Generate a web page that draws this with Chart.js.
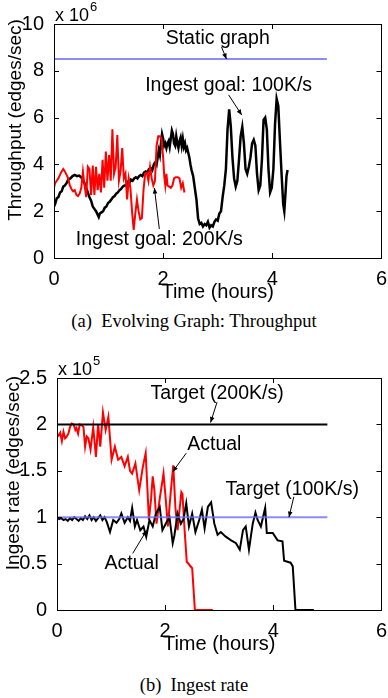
<!DOCTYPE html>
<html><head><meta charset="utf-8">
<script src="https://cdn.jsdelivr.net/npm/chart.js@4"></script>
<style>
html,body{margin:0;padding:0;background:#fff;width:388px;height:698px;overflow:hidden;}
.wrap{position:absolute;left:0;width:388px;}
canvas{display:block;}
.cap{position:absolute;left:0;width:388px;text-align:center;font-family:'Liberation Serif','Times New Roman',serif;font-size:18.5px;line-height:22px;color:#000;white-space:pre;}
</style></head>
<body>
<div class="wrap" style="top:0;height:304px"><canvas id="c1" width="388" height="304"></canvas></div>
<div class="cap" style="top:310px">(a)  Evolving Graph: Throughput</div>
<div class="wrap" style="top:350px;height:306px"><canvas id="c2" width="388" height="306"></canvas></div>
<div class="cap" style="top:674px">(b)  Ingest rate</div>
<script>
// ---------- DATA (a) Throughput, x in hours, y in 1e6 edges/sec ----------
const tpXTicks = [0, 2, 4, 6];
const tpYTicks = [0, 2, 4, 6, 8, 10];
const staticGraphT = [0, 5];
const staticGraphV = [8.5, 8.5];
const goal100T = [0.00,0.02,0.05,0.08,0.11,0.14,0.17,0.20,0.23,0.26,0.30,0.34,0.38,0.42,0.46,0.50,0.53,0.56,0.59,0.62,0.65,0.68,0.71,0.74,0.77,0.80,0.82,0.84,0.87,0.90,0.93,0.96,0.99,1.02,1.05,1.08,1.11,1.14,1.17,1.20,1.23,1.26,1.29,1.32,1.35,1.38,1.41,1.44,1.47,1.50,1.53,1.56,1.59,1.62,1.65,1.68,1.71,1.74,1.77,1.80,1.83,1.86,1.88,1.90,1.92,1.94,1.96,1.98,2.00,2.02,2.04,2.06,2.08,2.10,2.12,2.14,2.16,2.18,2.20,2.22,2.24,2.26,2.28,2.30,2.32,2.34,2.36,2.38,2.40,2.42,2.44,2.46,2.48,2.50,2.52,2.55,2.58,2.61,2.64,2.67,2.70,2.73,2.76,2.79,2.82,2.85,2.88,2.91,2.94,2.97,3.00,3.03,3.06,3.09,3.12,3.15,3.18,3.21,3.24,3.27,3.30,3.33,3.36,3.39,3.42,3.45,3.48,3.51,3.54,3.57,3.60,3.63,3.66,3.69,3.72,3.75,3.78,3.81,3.84,3.87,3.90,3.93,3.96,3.99,4.02,4.05,4.08,4.11,4.14,4.17,4.20,4.22,4.24,4.26,4.28];
const goal100V = [2.2,2.3,2.55,2.6,2.8,2.85,3.05,3.1,3.2,3.35,3.4,3.5,3.55,3.5,3.52,3.45,3.3,3.2,3.0,2.8,2.6,2.45,2.2,2.1,2.0,1.85,1.75,1.9,1.95,2.0,2.15,2.2,2.35,2.4,2.5,2.6,2.65,2.75,2.8,2.9,2.95,3.05,3.1,3.1,3.25,3.2,3.35,3.3,3.4,3.45,3.4,3.5,3.55,3.5,3.65,3.7,3.65,3.8,3.85,3.75,4.0,4.1,4.0,4.3,4.6,4.4,4.9,5.3,5.1,4.8,4.9,4.7,4.9,5.0,4.75,5.1,5.45,5.3,4.9,4.8,5.2,4.9,4.7,5.0,5.15,4.8,5.1,4.75,4.9,4.6,4.7,4.5,4.3,4.0,3.76,3.5,3.0,2.5,1.7,1.45,1.5,1.35,1.45,1.4,1.55,1.3,1.4,1.35,1.55,1.65,1.6,1.9,2.0,2.6,3.1,3.8,5.5,6.35,5.6,4.3,3.4,3.05,3.3,4.2,5.2,5.6,4.9,3.8,3.6,3.9,4.3,4.9,5.05,4.8,3.6,2.9,3.1,4.2,5.9,6.0,5.5,3.8,2.8,3.0,3.8,5.7,6.8,6.5,5.0,3.6,2.3,2.0,2.7,3.5,3.76];
const goal200T = [0.00,0.02,0.05,0.08,0.11,0.14,0.17,0.20,0.23,0.26,0.29,0.32,0.35,0.38,0.41,0.44,0.47,0.50,0.53,0.56,0.59,0.62,0.65,0.68,0.71,0.74,0.77,0.80,0.83,0.86,0.89,0.92,0.95,0.98,1.01,1.04,1.07,1.10,1.13,1.16,1.19,1.22,1.25,1.28,1.31,1.34,1.37,1.40,1.43,1.46,1.49,1.52,1.55,1.58,1.61,1.64,1.67,1.70,1.73,1.76,1.79,1.82,1.85,1.88,1.91,1.94,1.97,2.00,2.02,2.04,2.06,2.08,2.11,2.14,2.17,2.20,2.23,2.27,2.30,2.33,2.36,2.39];
const goal200V = [3.0,3.2,3.3,3.4,3.55,3.7,3.8,3.7,3.55,3.4,3.1,2.95,2.85,2.9,2.7,2.65,2.75,3.0,3.7,3.1,2.6,3.9,3.8,2.7,3.95,2.7,3.9,2.9,3.6,2.8,4.2,3.0,4.55,3.3,4.4,3.3,5.5,3.6,3.9,5.25,3.3,3.7,4.7,3.4,3.6,2.5,3.4,3.0,2.0,1.2,1.9,2.5,2.0,1.65,1.7,2.9,3.6,3.65,3.3,3.9,3.4,3.1,3.3,4.8,5.2,5.2,5.1,4.3,3.5,3.1,3.6,3.1,3.05,3.0,3.1,3.4,3.45,3.45,3.4,3.0,3.2,2.8];

// ---------- DATA (b) Ingest rate, x in hours, y in 1e5 edges/sec ----------
const irXTicks = [0, 2, 4, 6];
const irYTicks = [0, 0.5, 1, 1.5, 2, 2.5];
const target200T = [0, 5];
const target200V = [2, 2];
const target100T = [0, 5];
const target100V = [1, 1];
const actual200T = [0.00,0.03,0.06,0.09,0.12,0.15,0.17,0.21,0.24,0.27,0.31,0.34,0.36,0.39,0.42,0.46,0.49,0.52,0.55,0.58,0.62,0.67,0.72,0.76,0.80,0.85,0.90,0.95,1.01,1.07,1.13,1.19,1.25,1.31,1.35,1.39,1.45,1.52,1.59,1.64,1.70,1.74,1.77,1.80,1.84,1.90,1.97,2.01,2.05,2.10,2.15,2.19,2.23,2.27,2.30,2.32,2.36,2.40,2.50,2.55,2.88];
const actual200V = [1.90,1.88,1.91,1.82,1.92,1.85,1.86,1.90,1.97,2.01,2.00,1.94,1.96,1.90,2.00,1.99,1.97,1.76,1.87,1.85,1.73,1.97,1.65,2.00,1.76,2.13,1.94,2.08,1.62,1.76,1.62,1.65,1.55,1.65,1.50,1.47,1.58,1.29,1.55,1.69,0.97,1.20,1.44,1.30,0.93,1.20,1.47,1.20,0.90,1.25,1.56,1.10,0.86,1.10,1.27,1.25,0.86,0.52,0.45,0.00,0.00];
const actual100T = [0.00,0.04,0.08,0.12,0.16,0.20,0.24,0.28,0.32,0.36,0.40,0.44,0.48,0.52,0.56,0.60,0.64,0.68,0.72,0.76,0.80,0.84,0.88,0.92,0.98,1.04,1.10,1.15,1.19,1.25,1.31,1.35,1.39,1.44,1.48,1.54,1.60,1.65,1.71,1.77,1.83,1.90,1.95,2.02,2.08,2.14,2.17,2.23,2.29,2.34,2.39,2.44,2.50,2.56,2.63,2.68,2.73,2.79,2.85,2.91,2.97,3.03,3.12,3.22,3.31,3.38,3.44,3.49,3.55,3.62,3.67,3.71,3.77,3.85,3.88,3.99,4.08,4.17,4.20,4.32,4.36,4.41,4.75];
const actual100V = [1.00,0.98,0.99,0.97,0.98,0.96,0.99,0.97,1.00,0.98,0.96,0.99,0.97,1.01,0.98,1.02,0.97,1.00,0.96,0.99,1.02,0.97,1.00,0.95,0.84,0.97,0.94,0.98,1.04,0.94,1.00,0.96,1.10,0.90,0.97,0.86,0.90,0.79,0.97,0.90,1.04,1.11,0.86,0.94,1.00,0.72,0.80,1.04,0.93,0.98,1.15,0.90,1.04,0.84,0.97,1.08,0.88,1.11,1.16,0.93,0.81,0.84,0.79,0.75,0.72,0.65,0.86,0.90,0.65,0.93,1.05,0.97,0.90,1.10,0.83,0.83,0.75,0.74,0.53,0.51,0.47,0.00,0.00];

// ---------- helpers ----------
const SANS = "'Liberation Sans', Arial, Helvetica, sans-serif";
function pts(t, v) { return t.map((x, i) => ({x: x, y: v[i]})); }
function line(t, v, color, w) {
  return {data: pts(t, v), borderColor: color, borderWidth: w, pointRadius: 0, fill: false, tension: 0};
}

// annotation plugin (box, inward ticks, axis title, exponent, text + arrows in data coordinates)
const annotPlugin = {
  id: 'annot',
  afterDraw(chart, args, opts) {
    const ctx = chart.ctx, xs = chart.scales.x, ys = chart.scales.y, a = chart.chartArea;
    ctx.save();
    ctx.strokeStyle = '#000'; ctx.lineWidth = 1;
    ctx.strokeRect(Math.round(a.left) + 0.5, Math.round(a.top) + 0.5, Math.round(a.right - a.left), Math.round(a.bottom - a.top));
    const L = 5;
    ctx.beginPath();
    opts.yTicks.forEach(v => {
      const y = Math.round(ys.getPixelForValue(v)) + 0.5;
      ctx.moveTo(a.left, y); ctx.lineTo(a.left + L, y);
      ctx.moveTo(a.right, y); ctx.lineTo(a.right - L, y);
    });
    opts.xTicks.forEach(v => {
      const x = Math.round(xs.getPixelForValue(v)) + 0.5;
      ctx.moveTo(x, a.bottom); ctx.lineTo(x, a.bottom - L);
      ctx.moveTo(x, a.top); ctx.lineTo(x, a.top + L);
    });
    ctx.stroke();
    ctx.fillStyle = '#000';
    // y axis title (rotated)
    ctx.save();
    ctx.font = '19px ' + SANS;
    ctx.translate(opts.titleX, (a.top + a.bottom) / 2 - 21);
    ctx.rotate(-Math.PI / 2);
    ctx.textAlign = 'center'; ctx.textBaseline = 'middle';
    ctx.fillText(opts.yTitle, 0, 0);
    ctx.restore();
    // exponent label
    ctx.textBaseline = 'alphabetic'; ctx.textAlign = 'left';
    ctx.font = '18px ' + SANS;
    const ex = a.left + 1, ey = a.top - 3;
    ctx.fillText('x 10', ex, ey);
    const w = ctx.measureText('x 10').width;
    ctx.font = '13px ' + SANS;
    ctx.fillText(opts.exp, ex + w + 1, ey - 10);
    // annotation texts and arrows
    ctx.font = '19.5px ' + SANS;
    ctx.textAlign = 'center'; ctx.textBaseline = 'middle';
    opts.labels.forEach(l => {
      ctx.fillText(l.text, xs.getPixelForValue(l.x), ys.getPixelForValue(l.y));
      const x1 = xs.getPixelForValue(l.ax[0]), y1 = ys.getPixelForValue(l.ax[1]);
      const x2 = xs.getPixelForValue(l.ax[2]), y2 = ys.getPixelForValue(l.ax[3]);
      ctx.beginPath(); ctx.lineWidth = 1;
      ctx.moveTo(x1, y1); ctx.lineTo(x2, y2); ctx.stroke();
      const ang = Math.atan2(y2 - y1, x2 - x1), hl = 6, hw = 0.4;
      ctx.beginPath();
      ctx.moveTo(x2, y2);
      ctx.lineTo(x2 - hl * Math.cos(ang - hw), y2 - hl * Math.sin(ang - hw));
      ctx.lineTo(x2 - hl * Math.cos(ang + hw), y2 - hl * Math.sin(ang + hw));
      ctx.closePath(); ctx.fill();
    });
    ctx.restore();
  }
};

function makeOptions(cfg) {
  return {
    responsive: false, animation: false, devicePixelRatio: 1,
    layout: {padding: {top: cfg.top, right: 4, left: 0, bottom: 0}},
    plugins: {legend: {display: false}, tooltip: {enabled: false}, annot: cfg.annot},
    scales: {
      x: {
        type: 'linear', min: 0, max: 6,
        afterBuildTicks: s => { s.ticks = cfg.xTicks.map(v => ({value: v})); },
        afterFit: s => { s.height = cfg.xH; },
        grid: {display: false}, border: {display: false},
        ticks: {color: '#000', font: {family: SANS, size: 20}, padding: 1, maxRotation: 0, callback: v => String(v)},
        title: {display: true, text: 'Time (hours)', color: '#000', font: {family: SANS, size: 20}, padding: {top: 0, bottom: 0}}
      },
      y: {
        type: 'linear', min: cfg.yMin, max: cfg.yMax,
        afterBuildTicks: s => { s.ticks = cfg.yTicks.map(v => ({value: v})); },
        afterFit: s => { s.width = 54 + cfg.yShift; },
        grid: {display: false}, border: {display: false},
        ticks: {color: '#000', font: {family: SANS, size: 20}, padding: 2, callback: v => String(v)},
        title: {display: false}
      }
    }
  };
}

new Chart(document.getElementById('c1'), {
  type: 'line',
  data: {datasets: [
    line(staticGraphT, staticGraphV, 'rgba(110,110,255,0.8)', 2),
    line(goal200T, goal200V, '#ff0000', 2),
    line(goal100T, goal100V, '#000000', 2.5)
  ]},
  options: makeOptions({
    top: 24, xH: 46, yShift: 0, yMin: 0, yMax: 10, xTicks: tpXTicks, yTicks: tpYTicks,
    annot: {xTicks: tpXTicks, yTicks: tpYTicks, exp: '6', yTitle: 'Throughput (edges/sec)', titleX: 16, labels: [
      {text: 'Static graph', x: 3.0, y: 9.36, ax: [3.07, 9.02, 3.16, 8.5]},
      {text: 'Ingest goal: 100K/s', x: 3.2, y: 7.35, ax: [3.2, 6.97, 3.44, 6.11]},
      {text: 'Ingest goal: 200K/s', x: 1.93, y: 0.77, ax: [1.93, 1.24, 1.84, 2.99]}
    ]}
  }),
  plugins: [annotPlugin]
});

new Chart(document.getElementById('c2'), {
  type: 'line',
  data: {datasets: [
    line(target100T, target100V, 'rgba(110,110,255,0.8)', 2),
    line(target200T, target200V, '#000000', 2),
    line(actual100T, actual100V, '#000000', 2),
    line(actual200T, actual200V, '#ff0000', 2)
  ]},
  options: makeOptions({
    top: 28, xH: 46, yShift: 3, yMin: 0, yMax: 2.5, xTicks: irXTicks, yTicks: irYTicks,
    annot: {xTicks: irXTicks, yTicks: irYTicks, exp: '5', yTitle: 'Ingest rate (edges/sec)', titleX: 14, labels: [
      {text: 'Target (200K/s)', x: 2.96, y: 2.33, ax: [2.96, 2.24, 2.84, 2.02]},
      {text: 'Actual', x: 2.91, y: 1.78, ax: [2.39, 1.69, 2.14, 1.49]},
      {text: 'Target (100K/s)', x: 4.35, y: 1.30, ax: [4.38, 1.22, 4.29, 1.0]},
      {text: 'Actual', x: 1.38, y: 0.50, ax: [1.4, 0.61, 1.66, 0.86]}
    ]}
  }),
  plugins: [annotPlugin]
});
</script>
</body></html>
